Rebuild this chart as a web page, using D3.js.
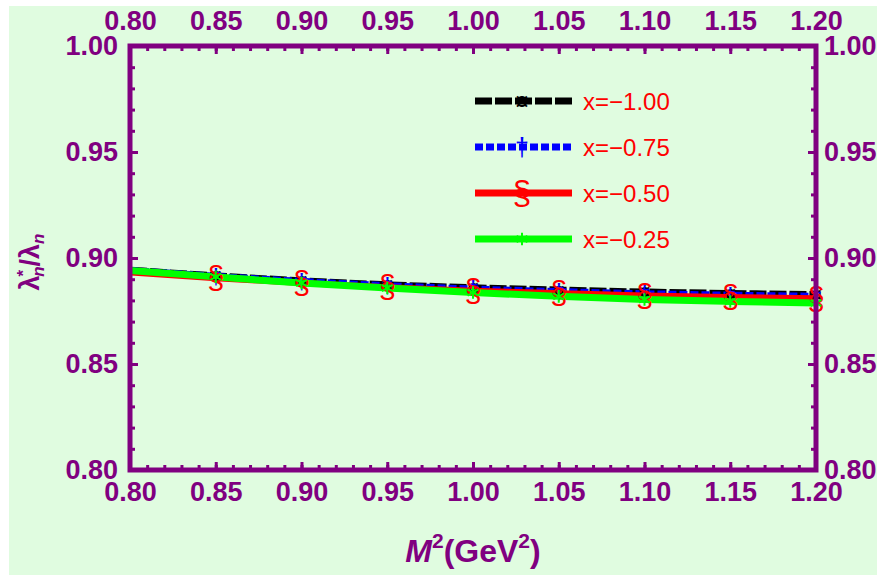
<!DOCTYPE html>
<html>
<head>
<meta charset="utf-8">
<script src="https://cdn.jsdelivr.net/npm/d3@7"></script>
<style>
  body { margin: 0; background: #fff; }
  text { font-family: "Liberation Sans", Arial, sans-serif; }
</style>
</head>
<body>
<div id="chart"></div>
<script>
// M^2 values (GeV^2) and the ratio for each x
var m2 = [0.80, 0.85, 0.90, 0.95, 1.00, 1.05, 1.10, 1.15, 1.20];
var xNeg100 = [0.8945, 0.8918, 0.8895, 0.8876, 0.8862, 0.8851, 0.8842, 0.8835, 0.8830];
var xNeg075 = [0.8944, 0.8916, 0.8892, 0.8872, 0.8856, 0.8844, 0.8834, 0.8827, 0.8822];
var xNeg050 = [0.8932, 0.8905, 0.8882, 0.8862, 0.8846, 0.8834, 0.8823, 0.8816, 0.8810];
var xNeg025 = [0.8941, 0.8911, 0.8882, 0.8858, 0.8837, 0.8819, 0.8804, 0.8795, 0.8788];
var seriesNames = ['x=\u22121.00', 'x=\u22120.75', 'x=\u22120.50', 'x=\u22120.25'];
var xTicks = [0.80, 0.85, 0.90, 0.95, 1.00, 1.05, 1.10, 1.15, 1.20];
var yTicks = [0.80, 0.85, 0.90, 0.95, 1.00];

function main(){
    var W = 877, H = 575;
    var margin = { top: 46, right: 61, bottom: 105, left: 130 },
        width  = W - margin.left - margin.right,
        height = H - margin.top - margin.bottom;
    var purple = '#800080';

    var svg = d3.select('#chart').append('svg')
                .attr('width', W)
                .attr('height', H);

    // light green page
    svg.append('rect')
       .attr('x', 9).attr('y', 6)
       .attr('width', W - 9).attr('height', H - 6)
       .attr('fill', '#e0fce0');

    var g = svg.append('g')
               .attr('transform', 'translate(' + margin.left + ',' + margin.top + ')');

    var x = d3.scaleLinear().domain([0.80, 1.20]).range([0, width]);
    var y = d3.scaleLinear().domain([0.80, 1.00]).range([height, 0]);

    var minorX = d3.range(80, 121).map(function(d){ return d / 100; });
    var minorY = d3.range(80, 101).map(function(d){ return d / 100; });

    function styleAxis(sel){
        sel.select('.domain').remove();
        sel.selectAll('line').attr('stroke', purple).attr('stroke-width', 3);
        sel.selectAll('text')
           .attr('fill', purple)
           .attr('font-size', 27)
           .attr('font-weight', 'bold')
           .attr('font-family', '"Liberation Sans", Arial, sans-serif');
    }

    // minor ticks (inward)
    g.append('g').attr('transform', 'translate(0,' + height + ')')
     .call(d3.axisBottom(x).tickValues(minorX).tickSize(-5).tickFormat('')).call(styleAxis);
    g.append('g')
     .call(d3.axisTop(x).tickValues(minorX).tickSize(-5).tickFormat('')).call(styleAxis);
    g.append('g')
     .call(d3.axisLeft(y).tickValues(minorY).tickSize(-5).tickFormat('')).call(styleAxis);
    g.append('g').attr('transform', 'translate(' + width + ',0)')
     .call(d3.axisRight(y).tickValues(minorY).tickSize(-5).tickFormat('')).call(styleAxis);

    // major ticks with labels
    var fmt = d3.format('.2f');
    g.append('g').attr('transform', 'translate(0,' + height + ')')
     .call(d3.axisBottom(x).tickValues(xTicks).tickSize(-8).tickPadding(12).tickFormat(fmt)).call(styleAxis);
    g.append('g')
     .call(d3.axisTop(x).tickValues(xTicks).tickSize(-8).tickPadding(16).tickFormat(fmt)).call(styleAxis);
    g.append('g')
     .call(d3.axisLeft(y).tickValues(yTicks).tickSize(-8).tickPadding(12).tickFormat(fmt)).call(styleAxis);
    g.append('g').attr('transform', 'translate(' + width + ',0)')
     .call(d3.axisRight(y).tickValues(yTicks).tickSize(-8).tickPadding(8).tickFormat(fmt)).call(styleAxis);

    // curves
    var series = [
        { name: seriesNames[0], vals: xNeg100, color: '#000000', width: 6, dash: '17,3', mark: '\u00a4', size: 22, dy: '0.36em' },
        { name: seriesNames[1], vals: xNeg075, color: '#0000ff', width: 6, dash: '8,3',  mark: '\u2020', size: 22, dy: '0.36em' },
        { name: seriesNames[2], vals: xNeg050, color: '#ff0000', width: 6, dash: null,   mark: '\u00a7', size: 31, dy: '0.33em' },
        { name: seriesNames[3], vals: xNeg025, color: '#00ff00', width: 7, dash: null,   mark: null,     size: 0,  dy: null }
    ];

    var line = d3.line()
                 .x(function(d){ return x(d[0]); })
                 .y(function(d){ return y(d[1]); })
                 .curve(d3.curveMonotoneX);

    g.append('clipPath').attr('id', 'clip')
     .append('rect').attr('width', width).attr('height', height);

    var plot = g.append('g').attr('clip-path', 'url(#clip)');

    series.forEach(function(s){
        plot.append('path')
            .datum(d3.zip(m2, s.vals))
            .attr('fill', 'none')
            .attr('stroke', s.color)
            .attr('stroke-width', s.width)
            .attr('stroke-dasharray', s.dash)
            .attr('d', line);
    });

    var star = d3.symbol().type(d3.symbolAsterisk).size(110);

    // draws one marker of a series at (px, py)
    function marker(sel, s, px, py, big){
        if(s.mark === null){
            sel.append('path')
               .attr('transform', 'translate(' + px + ',' + py + ')')
               .attr('d', star())
               .attr('fill', 'none')
               .attr('stroke', s.color)
               .attr('stroke-width', 2);
        } else {
            sel.append('text')
               .attr('x', px).attr('y', py)
               .attr('dy', s.dy)
               .attr('text-anchor', 'middle')
               .attr('font-size', big ? s.size + 3 : s.size)
               .attr('fill', s.color)
               .text(s.mark);
        }
    }

    // markers at every point except the first
    series.forEach(function(s){
        d3.zip(m2, s.vals).slice(1).forEach(function(d){
            marker(g, s, x(d[0]), y(d[1]), false);
        });
    });

    // frame
    g.append('rect')
     .attr('width', width).attr('height', height)
     .attr('fill', 'none')
     .attr('stroke', purple)
     .attr('stroke-width', 5);

    // legend
    var leg = svg.append('g');
    series.forEach(function(s, i){
        var ly = 101 + i * 46;
        leg.append('line')
           .attr('x1', 475).attr('x2', 572)
           .attr('y1', ly).attr('y2', ly)
           .attr('stroke', s.color)
           .attr('stroke-width', 7)
           .attr('stroke-dasharray', s.dash);
        marker(leg, s, 522, ly, true);
        leg.append('text')
           .attr('x', 583).attr('y', ly)
           .attr('dy', '0.36em')
           .attr('font-size', 24)
           .attr('fill', '#ff0000')
           .text(s.name);
    });

    // axis titles
    var xt = svg.append('text')
                .attr('x', margin.left + width / 2).attr('y', 562)
                .attr('text-anchor', 'middle')
                .attr('font-size', 32)
                .attr('font-weight', 'bold')
                .attr('fill', purple);
    xt.append('tspan').attr('font-style', 'italic').text('M');
    xt.append('tspan').attr('font-size', 21).attr('dy', -14).text('2');
    xt.append('tspan').attr('dy', 14).text('(GeV');
    xt.append('tspan').attr('font-size', 21).attr('dy', -14).text('2');
    xt.append('tspan').attr('dy', 14).text(')');

    var yt = svg.append('text')
                .attr('transform', 'translate(39,' + (margin.top + height / 2 + 4) + ') rotate(-90)')
                .attr('text-anchor', 'middle')
                .attr('font-size', 27)
                .attr('font-weight', 'bold')
                .attr('fill', purple);
    yt.append('tspan').text('\u03bb');
    yt.append('tspan').attr('font-size', 17).attr('dy', -10).attr('dx', -1).text('*');
    yt.append('tspan').attr('font-size', 17).attr('dy', 15).attr('dx', -7).attr('font-style', 'italic').text('n');
    yt.append('tspan').attr('dy', -5).text('/\u03bb');
    yt.append('tspan').attr('font-size', 17).attr('dy', 5).attr('font-style', 'italic').text('n');
}

main();
</script>
</body>
</html>
